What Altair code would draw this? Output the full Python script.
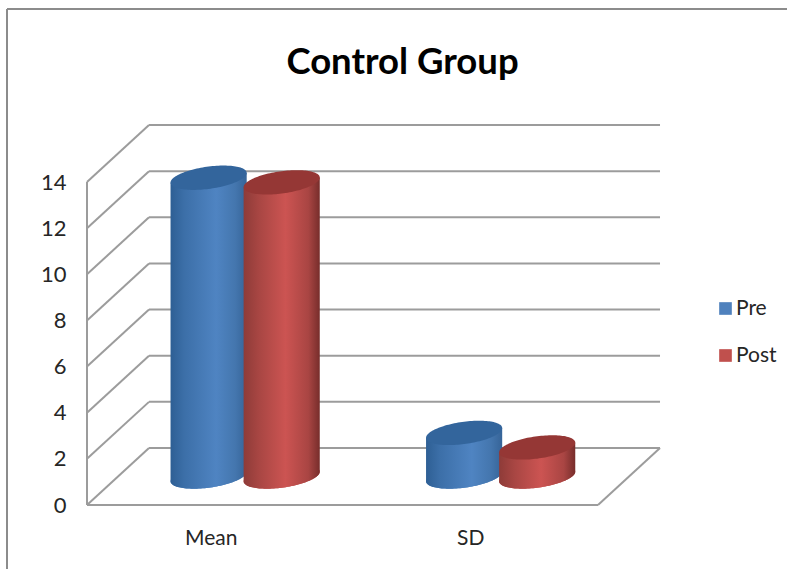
import numpy as np
import pandas as pd
import altair as alt

# Chart values
categories = ["Mean", "SD"]
series = ["Pre", "Post"]
pre_values = [12.95, 1.89]
post_values = [12.75, 1.26]
y_ticks = [0, 2, 4, 6, 8, 10, 12, 14]

# Oblique projection of the 3D box, in axis units
DEPTH_X = 0.2427
DEPTH_Y = 2.47
BAR_OFFSET = {"Pre": 0.476, "Post": 0.762}
BAR_RX = 0.149
BAR_RY = 0.485
BAR_SHEAR = 1.4
FLOOR_MID = DEPTH_Y / 2

FONT = "Lato"
BLUE = "#4f81bd"
RED = "#c0504d"
CAP = {"Pre": "#33659c", "Post": "#953735"}
GRID = "#9c9c9c"


def shade(stops):
    return alt.Gradient(
        gradient="linear", x1=0, x2=1, y1=0, y2=0,
        stops=[alt.GradientStop(offset=o, color=c) for o, c in stops],
    )


BODY = {
    "Pre": shade([(0, "#2e5f94"), (0.18, "#3c6fa8"), (0.6, "#4f84c2"), (0.85, "#4476ae"), (1, "#366498")]),
    "Post": shade([(0, "#8e3b38"), (0.2, "#a84643"), (0.55, "#cc5452"), (0.85, "#a94543"), (1, "#772d2b")]),
}


def disc(center_x, level, sample=61):
    """Sheared ellipse of a cylinder end, as lower and upper outlines."""
    t = np.linspace(np.pi, 0, sample)
    dx = BAR_RX * np.cos(t)
    mid = level + BAR_SHEAR * dx
    half = BAR_RY * np.sin(t)
    return center_x + dx, mid - half, mid + half, mid


axis_x = alt.Axis(
    values=[0.484, 1.5], labelExpr="datum.value < 1 ? 'Mean' : 'SD'", title=None,
    domain=False, ticks=False, grid=False, labelFont=FONT, labelFontSize=21,
    labelColor="#262626", labelPadding=22, labelAngle=0,
)
axis_y = alt.Axis(
    values=y_ticks, title=None, domain=False, ticks=False, grid=False, labelFont=FONT,
    labelFontSize=22, labelColor="#262626", labelPadding=21,
)
x_scale = alt.Scale(domain=[0, 2], nice=False, zero=False)
y_scale = alt.Scale(domain=[0, 14], nice=False, zero=False)
X = alt.X("x:Q", scale=x_scale, axis=axis_x)
Y = alt.Y("y:Q", scale=y_scale, axis=axis_y)
X2 = alt.X2("x2:Q")
Y2 = alt.Y2("y2:Q")


def rules(rows, color=GRID, width=2):
    frame = pd.DataFrame(rows, columns=["x", "x2", "y", "y2"])
    return alt.Chart(frame).mark_rule(color=color, strokeWidth=width).encode(x=X, x2=X2, y=Y, y2=Y2)


# Box: back-wall gridlines, side-wall diagonals, floor edges and the value edge
back_wall = rules([[DEPTH_X, 2 + DEPTH_X, v + DEPTH_Y, v + DEPTH_Y] for v in y_ticks])
side_wall = rules([[0, DEPTH_X, v, v + DEPTH_Y] for v in y_ticks])
floor = rules([[0, 2, 0, 0], [2, 2 + DEPTH_X, 0, DEPTH_Y], [0, 0, 0, 14]])

# Cylinder ends at floor level carry the series colours and the legend
base_rows = []
layers_bars = []
for i, cat in enumerate(categories):
    for name, val in zip(series, (pre_values[i], post_values[i])):
        cx = i + BAR_OFFSET[name]
        bx, lo, up, _ = disc(cx, FLOOR_MID)
        base_rows += [
            {"x": a, "y": b, "y2": c, "series": name, "bar": f"{cat}-{name}"}
            for a, b, c in zip(bx, lo, up)
        ]
        _, _, _, top_mid = disc(cx, FLOOR_MID + val)
        body = pd.DataFrame({"x": bx, "y": lo, "y2": top_mid})
        layers_bars.append(alt.Chart(body).mark_area(color=BODY[name]).encode(x=X, y=Y, y2=Y2))
        tx, tlo, tup, _ = disc(cx, FLOOR_MID + val)
        cap = pd.DataFrame({"x": tx, "y": tlo, "y2": tup})
        layers_bars.append(alt.Chart(cap).mark_area(color=CAP[name]).encode(x=X, y=Y, y2=Y2))

bases = alt.Chart(pd.DataFrame(base_rows)).mark_area().encode(
    x=X, y=Y, y2=Y2, detail="bar:N",
    color=alt.Color(
        "series:N",
        scale=alt.Scale(domain=series, range=[BLUE, RED]),
        legend=alt.Legend(
            title=None, orient="none", legendX=628, legendY=116, symbolType="square",
            symbolSize=160, symbolStrokeWidth=0, labelFont=FONT, labelFontSize=21,
            labelColor="#262626", rowPadding=25, labelOffset=0,
        ),
    ),
)

# Outer chart border, open towards the right and bottom
border = alt.Chart(pd.DataFrame({"k": [0]})).mark_rule(color="#8c8c8c", strokeWidth=2)
border_left = border.encode(x=alt.value(-80), x2=alt.value(-80), y=alt.value(-173), y2=alt.value(387))
border_top = border.encode(x=alt.value(-80), x2=alt.value(700), y=alt.value(-173), y2=alt.value(-173))

chart = alt.layer(
    border_left, border_top, back_wall, side_wall, floor, bases, *layers_bars
).properties(
    width=511,
    height=323,
    title=alt.TitleParams(
        "Control Group", font=FONT, fontSize=36.5, fontWeight="bold", color="black",
        anchor="middle", dx=60, offset=-73,
    ),
    padding={"left": 87, "top": 182, "right": 189, "bottom": 64},
    autosize=alt.AutoSizeParams(type="none"),
    background="white",
).configure_view(stroke=None)

chart.save("out.html", embed_options={"renderer": "svg", "actions": False})
